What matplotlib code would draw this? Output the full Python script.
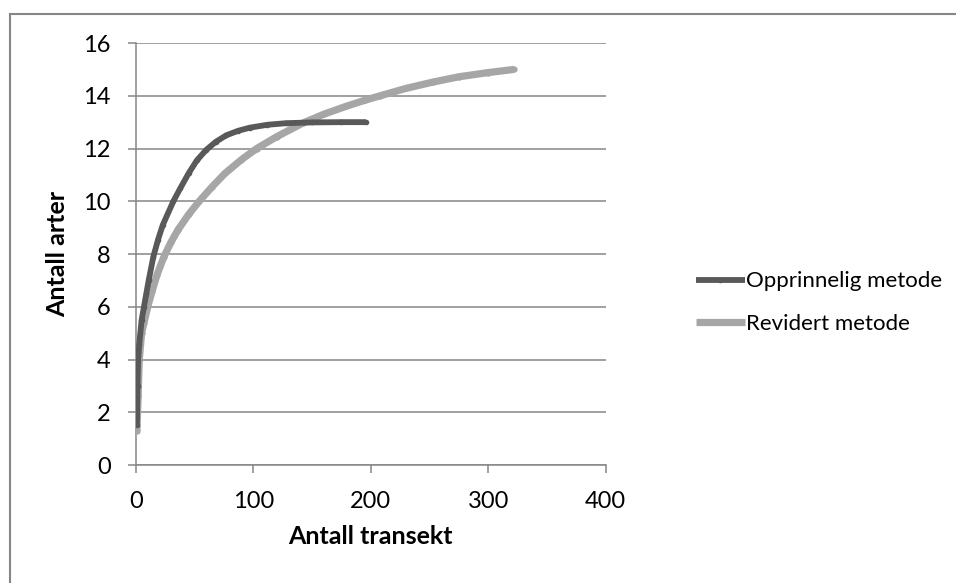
import matplotlib.pyplot as plt
from matplotlib.patches import Rectangle

# values
opprinnelig_x = [1, 1.5, 2, 3, 5, 7, 9, 11, 15, 19, 23, 32, 38, 45, 52, 60, 68, 77, 87, 97,
                 112, 128, 150, 175, 196]
opprinnelig_y = [1.5, 3.0, 4.0, 4.6, 5.5, 6.0, 6.5, 7.0, 7.9, 8.55, 9.1, 10.0, 10.5, 11.06,
                 11.55, 11.95, 12.25, 12.5, 12.67, 12.79, 12.9, 12.96, 12.99, 13.0, 13.0]

revidert_x = [1, 2, 3, 5, 7, 10.5, 14, 18, 24, 30, 36, 45, 54, 65, 76, 90, 103, 120, 142,
              160, 179, 195, 208, 230, 253, 275, 300, 322]
revidert_y = [1.3, 2.6, 4.0, 5.0, 5.4, 6.05, 6.6, 7.2, 7.9, 8.45, 8.92, 9.5, 10.0, 10.55, 11.06,
              11.58, 12.0, 12.45, 12.96, 13.3, 13.6, 13.83, 14.0, 14.28, 14.52, 14.72, 14.88, 15.0]

labels = ['Opprinnelig metode', 'Revidert metode']
colors = ['#595959', '#A6A6A6']

plt.rcParams['font.family'] = ['Lato', 'DejaVu Sans']
grid_col = '#868686'

fig = plt.figure(figsize=(9.56, 5.83), dpi=100)
ax = fig.add_axes([0.142, 0.2024, 0.4916, 0.7238])

ax.plot(revidert_x, revidert_y, color=colors[1], lw=5.2, marker='o', ms=3.5,
        solid_capstyle='butt', solid_joinstyle='round', label=labels[1], zorder=3)
ax.plot(opprinnelig_x, opprinnelig_y, color=colors[0], lw=4.2, marker='o', ms=3,
        solid_capstyle='butt', solid_joinstyle='round', label=labels[0], zorder=4)

ax.set_xlim(0, 400)
ax.set_ylim(0, 16)
ax.set_xticks(range(0, 401, 100))
ax.set_yticks(range(0, 17, 2))
ax.yaxis.grid(True, color=grid_col, lw=1.1)
ax.set_axisbelow(True)

for s in ['top', 'right']:
    ax.spines[s].set_visible(False)
for s in ['left', 'bottom']:
    ax.spines[s].set_color(grid_col)
    ax.spines[s].set_linewidth(1.1)
ax.tick_params(axis='both', colors=grid_col, labelcolor='black', labelsize=17,
               length=6, width=1.1, direction='out')
ax.tick_params(axis='x', pad=13)
ax.tick_params(axis='y', pad=12)

ax.set_xlabel('Antall transekt', fontsize=18, fontweight='bold', labelpad=9)
ax.set_ylabel('Antall arter', fontsize=18, fontweight='bold', labelpad=10)

handles, labs = ax.get_legend_handles_labels()
ax.legend(handles[::-1], labs[::-1], loc='center left', bbox_to_anchor=(1.149, 0.385),
          frameon=False, fontsize=16, handlelength=2.2, handletextpad=0.05,
          labelspacing=1.0)

fig.add_artist(Rectangle((10 / 956, -0.1), 1.2, 0.1 + 1 - 14 / 583, transform=fig.transFigure,
                         fill=False, edgecolor=grid_col, lw=1.5))

fig.savefig('out.png', dpi=100)
